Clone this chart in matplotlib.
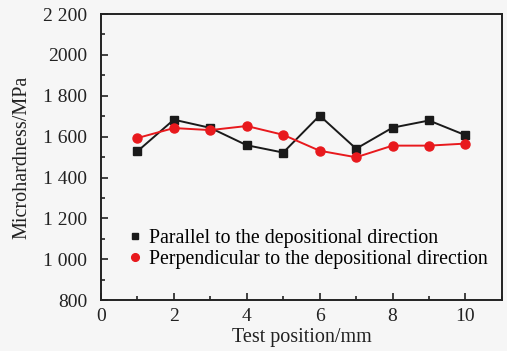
import matplotlib.pyplot as plt
from matplotlib.ticker import MultipleLocator

positions = [1, 2, 3, 4, 5, 6, 7, 8, 9, 10]
parallel = [1528, 1683, 1643, 1558, 1522, 1703, 1541, 1644, 1679, 1607]
perpendicular = [1593, 1642, 1632, 1652, 1609, 1531, 1499, 1556, 1556, 1566]

y_ticks = [800, 1000, 1200, 1400, 1600, 1800, 2000, 2200]
y_labels = ["800", "1 000", "1 200", "1 400", "1 600", "1 800", "2000", "2 200"]
x_ticks = [0, 2, 4, 6, 8, 10]

plt.rcParams['font.family'] = ['Liberation Serif', 'DejaVu Serif']

bg = '#f6f6f6'
fig = plt.figure(figsize=(5.07, 3.51), dpi=100, facecolor=bg)
ax = fig.add_axes([0.199, 0.145, 0.791, 0.815], facecolor=bg)

ax.plot(positions, parallel, color='#1a1a1a', marker='s', markersize=5.5,
        linewidth=1.4, label="Parallel to the depositional direction")
ax.plot(positions, perpendicular, color='#e8191d', marker='o', markersize=6.5,
        linewidth=1.4, label="Perpendicular to the depositional direction")

ax.set_xlim(0, 11)
ax.set_ylim(800, 2200)
ax.set_xticks(x_ticks)
ax.xaxis.set_minor_locator(MultipleLocator(1))
ax.set_yticks(y_ticks)
ax.set_yticklabels(y_labels)
ax.yaxis.set_minor_locator(MultipleLocator(100))
ax.tick_params(which='both', direction='in', width=1.2, labelsize=14,
               colors='#222222')
ax.tick_params(which='major', length=5)
ax.tick_params(which='minor', length=3)
ax.tick_params(axis='x', pad=6)
ax.tick_params(axis='y', pad=10)
for s in ax.spines.values():
    s.set_linewidth(1.4)
    s.set_color('#222222')

ax.set_xlabel("Test position/mm", fontsize=14.5, labelpad=2, color='#222222')
ax.set_ylabel("Microhardness/MPa", fontsize=14.5, labelpad=8, color='#222222')

ax.legend(loc='lower left', bbox_to_anchor=(0.05, 0.08), frameon=False,
          fontsize=14.3, handlelength=0.6, handletextpad=0.4, labelspacing=0.1,
          markerscale=0.85, borderaxespad=0)
leg = ax.get_legend()
for line in leg.get_lines():
    line.set_linestyle('none')

fig.savefig("out.png", dpi=100, facecolor=bg)
